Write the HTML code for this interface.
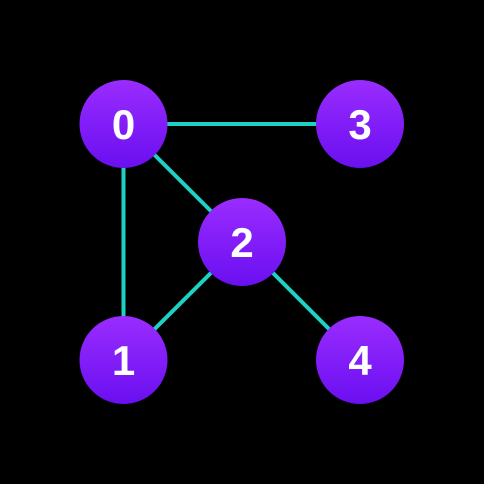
<!DOCTYPE html>
<html><head><style>html,body{margin:0;padding:0;background:#000;width:484px;height:484px;overflow:hidden}svg{display:block}</style></head>
<body>
<svg width="484" height="484" viewBox="0 0 484 484" xmlns="http://www.w3.org/2000/svg">
<defs>
<linearGradient id="g" x1="0" y1="0" x2="0" y2="1">
<stop offset="0" stop-color="#9a2cff"/>
<stop offset="1" stop-color="#6a0ff0"/>
</linearGradient>
</defs>
<rect width="484" height="484" fill="#000"/>
<g stroke="#1fd0c4" stroke-width="4">
<line x1="123.5" y1="124" x2="360" y2="124"/>
<line x1="123.5" y1="124" x2="123.5" y2="360"/>
<line x1="123.5" y1="124" x2="242" y2="242"/>
<line x1="242" y1="242" x2="123.5" y2="360"/>
<line x1="242" y1="242" x2="360" y2="360"/>
</g>
<g fill="url(#g)">
<circle cx="123.5" cy="124" r="44"/>
<circle cx="360" cy="124" r="44"/>
<circle cx="242" cy="242" r="44"/>
<circle cx="123.5" cy="360" r="44"/>
<circle cx="360" cy="360" r="44"/>
</g>
<g fill="#fff" font-family="Liberation Sans, sans-serif" font-weight="bold" font-size="42" text-anchor="middle">
<text x="123.5" y="139">0</text>
<text x="360" y="139">3</text>
<text x="242" y="257">2</text>
<text x="123.5" y="375">1</text>
<text x="360" y="375">4</text>
</g>
</svg>
</body></html>
